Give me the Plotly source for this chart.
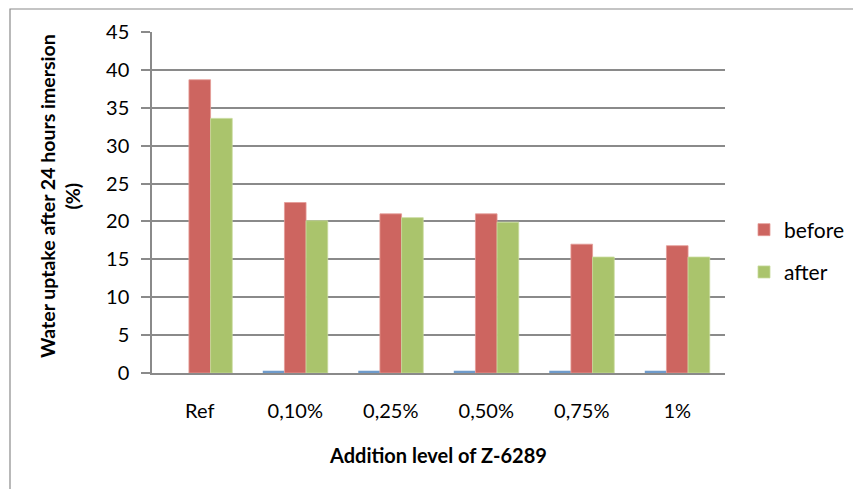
import plotly.graph_objects as go

# Water uptake after 24 h immersion by addition level of Z-6289
categories = ["Ref", "0,10%", "0,25%", "0,50%", "0,75%", "1%"]
base_series = [None, 0.3, 0.3, 0.3, 0.3, 0.3]
before = [38.7, 22.5, 21.0, 21.0, 17.0, 16.8]
after = [33.6, 20.1, 20.5, 19.9, 15.3, 15.3]
y_ticks = [0, 5, 10, 15, 20, 25, 30, 35, 40, 45]

W, H = 853, 489
L, R, T, B = 152, 725, 32, 373  # plot area in pixels
pw, ph = R - L, B - T

def px(x):
    return (x - L) / pw

def py(y):
    return (B - y) / ph

FONT = "Lato, Calibri, 'Open Sans', sans-serif"
GRID = "#8a8a8a"

fig = go.Figure()
fig.add_trace(go.Bar(x=categories, y=base_series, name="", showlegend=False,
                     marker=dict(color="#6f9bcb", line=dict(width=0))))
fig.add_trace(go.Bar(x=categories, y=before, name="before", legendgroup="b",
                     marker=dict(color="#cd6560", line=dict(width=0.8, color="#e49a96"))))
fig.add_trace(go.Bar(x=categories, y=after, name="after", legendgroup="a",
                     marker=dict(color="#aac46c", line=dict(width=0.8, color="#c6da9a"))))

fig.update_layout(
    width=W, height=H,
    margin=dict(l=L, r=W - R, t=T, b=H - B, pad=0, autoexpand=False),
    paper_bgcolor="white", plot_bgcolor="white",
    barmode="group", bargap=0.32, bargroupgap=0,
    font=dict(family=FONT, size=20, color="#000000"),
    legend=dict(x=px(744), y=py(251), xanchor="left", yanchor="middle",
                font=dict(size=21), itemwidth=30, tracegroupgap=12,
                bgcolor="rgba(0,0,0,0)"),
    showlegend=True,
)

fig.update_yaxes(
    range=[0, 45], tickvals=y_ticks, ticktext=[str(v) for v in y_ticks],
    showgrid=True, gridcolor=GRID, gridwidth=1.5,
    showline=True, linecolor=GRID, linewidth=1.5,
    ticks="outside", ticklen=9, tickcolor=GRID, tickwidth=1.5,
    ticklabelstandoff=8, zeroline=False,
    tickfont=dict(size=20), automargin=False,
)
fig.update_xaxes(
    showline=True, linecolor=GRID, linewidth=1.5, ticks="",
    showgrid=False, tickfont=dict(size=20), ticklabelstandoff=19,
    automargin=False,
)

# axis titles
fig.add_annotation(text="<b>Addition level of Z-6289</b>", xref="paper", yref="paper",
                   x=px(438), y=py(455), showarrow=False,
                   font=dict(size=20, family=FONT), xanchor="center", yanchor="middle")
fig.add_annotation(text="<b>Water uptake after 24 hours imersion</b><br><b>(%)</b>",
                   xref="paper", yref="paper", x=px(60), y=py(196), textangle=-90,
                   showarrow=False, font=dict(size=19.5, family=FONT),
                   xanchor="center", yanchor="middle")

# chart-area border (left and top edges visible)
fig.add_shape(type="rect", xref="paper", yref="paper",
              x0=px(10), x1=px(W + 40), y0=py(H + 40), y1=py(9),
              line=dict(color="#8a8a8a", width=1.2), fillcolor="rgba(0,0,0,0)", layer="below")

fig.write_html("out.html")
